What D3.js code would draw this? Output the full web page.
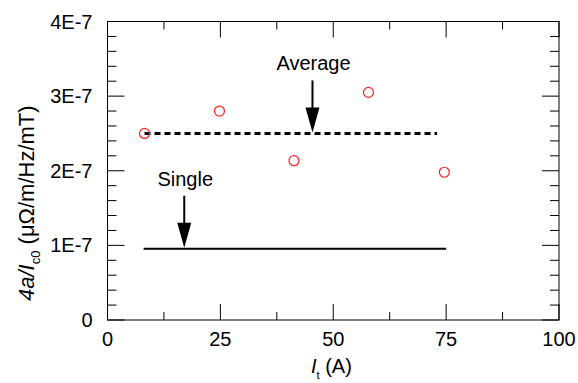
<!DOCTYPE html>
<html>
<head>
<meta charset="utf-8">
<script src="https://cdn.jsdelivr.net/npm/d3@7"></script>
<style>
  body { margin: 0; background: #fff; }
  text { font-family: "Liberation Sans", Arial, sans-serif; fill: #000; }
</style>
</head>
<body>
<div id="viz"></div>
<script>
// measured points
var current = [8.2, 24.8, 41.3, 57.8, 74.6];
var ratio = [2.50e-7, 2.80e-7, 2.135e-7, 3.05e-7, 1.98e-7];

// horizontal reference lines
var avgLine = {x: [8.2, 73], y: 2.5e-7};
var singleLine = {x: [8, 75], y: 0.955e-7};

// annotations
var notes = [
    {label: 'Average', x: 45.4, y: 2.5e-7},
    {label: 'Single', x: 17.0, y: 0.955e-7}
];

var xTicks = [0, 25, 50, 75, 100];
var xMinor = [12.5, 37.5, 62.5, 87.5];
var yTicks = [0, 1e-7, 2e-7, 3e-7, 4e-7];
var yTickLabels = ['0', '1E-7', '2E-7', '3E-7', '4E-7'];
var yMinor = [];
for (var i = 0; i < 20; i++) {
    if (i % 5 != 0) yMinor.push(i * 2e-8);
}

var W = 578, H = 383;
var margin = {top: 21.5, right: 19, bottom: 63, left: 107.5};
var width = W - margin.left - margin.right,
    height = H - margin.top - margin.bottom;

var svg = d3.select('#viz').append('svg')
    .attr('width', W)
    .attr('height', H);

var g = svg.append('g')
    .attr('transform', 'translate(' + margin.left + ',' + margin.top + ')');

var x = d3.scaleLinear().domain([0, 100]).range([0, width]);
var y = d3.scaleLinear().domain([0, 4e-7]).range([height, 0]);

// frame
g.append('rect')
    .attr('width', width)
    .attr('height', height)
    .attr('fill', 'none')
    .attr('stroke', '#000')
    .attr('stroke-width', 1);

// inward ticks on all sides
function tickLines(vals, len, vertical) {
    vals.forEach(function (v) {
        if (vertical) {
            g.append('line').attr('x1', x(v)).attr('x2', x(v))
                .attr('y1', height).attr('y2', height - len)
                .attr('stroke', '#000');
            g.append('line').attr('x1', x(v)).attr('x2', x(v))
                .attr('y1', 0).attr('y2', len)
                .attr('stroke', '#000');
        } else {
            g.append('line').attr('y1', y(v)).attr('y2', y(v))
                .attr('x1', 0).attr('x2', len)
                .attr('stroke', '#000');
            g.append('line').attr('y1', y(v)).attr('y2', y(v))
                .attr('x1', width).attr('x2', width - len)
                .attr('stroke', '#000');
        }
    });
}
tickLines(xTicks, 16, true);
tickLines(xMinor, 8, true);
tickLines(yTicks, 17, false);
tickLines(yMinor, 9, false);

// tick labels
g.selectAll('.xl').data(xTicks).enter().append('text')
    .attr('x', function (d) { return x(d); })
    .attr('y', height + 26)
    .attr('text-anchor', 'middle')
    .style('font-size', '20px')
    .text(function (d) { return d; });

g.selectAll('.yl').data(yTicks).enter().append('text')
    .attr('x', -15)
    .attr('y', function (d) { return y(d) + 7; })
    .attr('text-anchor', 'end')
    .style('font-size', '20px')
    .text(function (d, i) { return yTickLabels[i]; });

// axis titles
var xt = svg.append('text')
    .attr('x', 311)
    .attr('y', 373)
    .style('font-size', '20px');
xt.append('tspan').style('font-style', 'italic').text('I');
xt.append('tspan').attr('dy', 6).style('font-size', '11px').text('t');
xt.append('tspan').attr('dy', -6).text(' (A)');

var yt = svg.append('text')
    .attr('transform', 'translate(34,301) rotate(-90)')
    .style('font-size', '22px');
yt.append('tspan').style('font-style', 'italic').text('4a/I');
yt.append('tspan').attr('dy', 6).style('font-size', '13px').text('c0');
yt.append('tspan').attr('dy', -6).text(' (\u03bc\u03a9/m/Hz/mT)');

// reference lines
var line = d3.line()
    .x(function (d) { return x(d[0]); })
    .y(function (d) { return y(d[1]); });

g.append('path')
    .datum(avgLine.x.map(function (v) { return [v, avgLine.y]; }))
    .attr('d', line)
    .attr('fill', 'none')
    .attr('stroke', '#000')
    .attr('stroke-width', 3)
    .attr('stroke-dasharray', '6,4');

g.append('path')
    .datum(singleLine.x.map(function (v) { return [v, singleLine.y]; }))
    .attr('d', line)
    .attr('fill', 'none')
    .attr('stroke', '#000')
    .attr('stroke-width', 2);

// arrows with labels
notes.forEach(function (n) {
    var ax = x(n.x), tip = y(n.y) - 1;
    g.append('line')
        .attr('x1', ax).attr('x2', ax)
        .attr('y1', tip - 52).attr('y2', tip - 20)
        .attr('stroke', '#000')
        .attr('stroke-width', 2);
    g.append('path')
        .attr('d', 'M' + (ax - 7) + ',' + (tip - 25) + 'L' + (ax + 7) + ',' + (tip - 25) + 'L' + ax + ',' + tip + 'Z')
        .attr('fill', '#000');
    g.append('text')
        .attr('x', ax + 1)
        .attr('y', tip - 62)
        .attr('text-anchor', 'middle')
        .style('font-size', '20px')
        .text(n.label);
});

// data points
g.selectAll('circle').data(current).enter().append('circle')
    .attr('cx', function (d) { return x(d); })
    .attr('cy', function (d, i) { return y(ratio[i]); })
    .attr('r', 5)
    .attr('fill', 'none')
    .attr('stroke', '#f22')
    .attr('stroke-width', 1.2);
</script>
</body>
</html>
